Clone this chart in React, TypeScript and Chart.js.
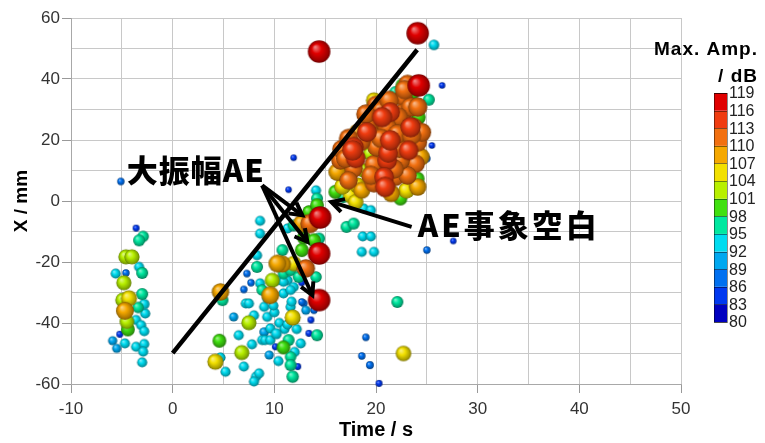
import React, { useEffect, useRef } from 'react';
import { Chart, registerables } from 'chart.js';
Chart.register(...registerables);

// ---------- data: [time s, X mm, max amplitude dB] ----------
const leftGroup: number[][] = [
  [-5.1, 6.4, 86], [-3.6, -8.9, 85], [-3.3, -12.9, 96], [-2.9, -11.6, 95],
  [-4.6, -18.3, 103], [-4.0, -18.3, 103], [-3.3, -21.6, 92], [-3.0, -23.6, 96],
  [-5.6, -23.8, 92], [-4.6, -23.6, 86], [-4.8, -26.8, 103], [-4.9, -32.5, 103],
  [-4.3, -31.9, 105], [-4.7, -36.0, 109], [-3.0, -30.5, 96], [-3.4, -34.9, 95],
  [-2.8, -33.8, 93], [-2.7, -36.9, 92], [-4.5, -39.6, 102], [-4.4, -42.1, 100],
  [-3.6, -39.0, 92], [-3.1, -40.7, 92], [-2.8, -42.7, 92], [-5.2, -43.7, 85],
  [-5.9, -45.8, 90], [-5.5, -48.3, 90], [-4.7, -46.7, 92], [-3.6, -47.8, 92],
  [-2.8, -46.9, 92], [-2.9, -49.4, 92], [-3.0, -52.9, 92],
];

const lowerGroup: number[][] = [
  [4.7, -29.8, 108], [4.9, -32.5, 96], [4.6, -45.8, 100], [4.2, -52.7, 105],
  [4.7, -51.3, 92], [5.2, -56.0, 92], [6.0, -38.0, 90], [7.5, -39.9, 103],
  [7.2, -33.6, 92], [7.0, -29.0, 86], [7.3, -23.8, 86], [7.7, -26.8, 86],
  [8.3, -21.6, 96], [8.3, -17.8, 92], [6.8, -49.7, 103], [7.0, -54.3, 92],
  [8.2, -57.6, 92], [8.5, -56.5, 92], [8.0, -59.2, 92], [8.8, -45.6, 92],
  [9.1, -45.6, 92], [9.6, -45.6, 92], [9.6, -41.8, 92], [9.3, -38.0, 92],
  [9.0, -34.7, 92], [9.3, -32.0, 92], [9.6, -30.9, 109], [9.8, -26.0, 103],
  [10.3, -20.5, 109], [10.8, -20.7, 107], [8.6, -27.0, 92], [8.8, -29.2, 95],
  [10.1, -47.8, 85], [10.9, -48.0, 100], [11.4, -45.6, 96], [11.6, -51.1, 95],
  [11.6, -53.8, 96], [11.8, -57.6, 97], [12.6, -46.7, 92], [11.8, -38.2, 105],
  [11.6, -34.7, 92], [10.9, -30.3, 92], [11.3, -26.0, 92], [10.9, -23.8, 95],
  [10.8, -16.1, 96], [11.9, -28.2, 92], [12.9, -33.6, 86], [13.6, -39.0, 85],
  [13.1, -35.8, 90], [13.4, -43.4, 85], [14.2, -44.0, 96], [14.4, -32.5, 119],
  [14.4, -17.2, 119], [13.1, -22.1, 110], [12.7, -26.8, 85], [11.9, 14.2, 84],
  [11.4, 3.7, 84], [14.1, 3.5, 92], [14.2, 0.8, 96], [14.2, -1.4, 100],
  [13.4, -3.6, 99], [14.5, -5.4, 119], [12.7, -7.4, 109], [13.5, -7.4, 112],
  [11.9, -8.0, 96], [11.3, -9.0, 92], [8.6, -6.5, 92], [8.6, -10.7, 92],
  [12.9, -12.0, 100], [13.9, -12.9, 100], [12.7, -16.1, 100], [14.4, -12.3, 96],
  [11.9, -20.5, 104], [14.1, -24.9, 95], [12.7, -33.1, 86], [11.7, -33.0, 92],
  [13.9, -35.8, 86], [11.6, -22.7, 96], [11.6, -29.2, 92], [12.4, -24.9, 96],
  [10.0, -36.5, 92], [10.5, -40.0, 92], [10.2, -43.5, 94], [12.2, -42.0, 92],
  [11.0, -42.0, 92], [12.0, -49.5, 92], [9.5, -50.5, 90], [10.4, -52.5, 92],
  [6.5, -44.0, 92], [7.8, -47.0, 92], [10.3, -26.0, 92], [10.9, -26.5, 92],
  [9.9, -34.3, 92], [11.3, -40.5, 92], [9.0, -43.0, 91], [8.0, -37.5, 92],
  [12.3, -54.3, 85], [7.5, -33.6, 92],
];

const upperGroup: number[][] = [
  [23.1, 38.4, 110], [22.6, 37.9, 100], [21.9, 35.7, 96], [19.8, 33.0, 105],
  [21.3, 33.0, 112], [22.7, 34.0, 110], [23.4, 30.8, 112], [24.1, 30.8, 112],
  [24.1, 27.0, 100], [21.4, 29.1, 113], [22.2, 27.5, 112], [20.3, 26.4, 110],
  [23.4, 24.2, 114], [21.1, 24.2, 112], [19.5, 22.0, 110], [22.1, 22.0, 112],
  [20.6, 27.5, 114], [24.2, 27.5, 100], [23.7, 24.2, 111], [19.1, 22.6, 113],
  [22.4, 23.7, 104], [21.4, 19.9, 115], [17.7, 16.6, 115], [17.0, 13.9, 111],
  [19.4, 15.5, 101], [20.1, 17.7, 112], [21.1, 13.3, 113], [22.4, 13.3, 111],
  [23.9, 12.2, 110], [23.2, 16.6, 113], [24.1, 19.3, 111], [17.8, 10.6, 110],
  [18.8, 10.0, 102], [19.5, 8.4, 112], [20.8, 7.9, 113], [21.9, 7.9, 110],
  [23.1, 8.4, 110], [17.3, 6.8, 110], [18.2, 5.1, 105], [20.9, 4.6, 114],
  [24.1, 7.3, 100], [24.1, 4.6, 108], [16.5, 13.3, 110], [18.5, 19.5, 112],
  [19.2, 25.0, 111], [20.5, 20.5, 112], [22.8, 19.8, 110], [18.0, 14.0, 113],
  [19.8, 12.0, 111], [21.8, 10.5, 112], [23.5, 21.5, 112], [20.3, 10.0, 104],
  [22.3, 17.2, 111], [24.4, 14.5, 109], [18.6, 3.5, 107], [19.8, 5.8, 110],
  [17.0, 9.0, 108], [16.7, 4.8, 106], [21.2, 15.8, 113], [17.8, 17.7, 114],
  [20.5, 29.7, 111], [17.3, 20.5, 112], [16.6, 17.0, 110], [18.2, 22.5, 108],
  [20.0, 31.5, 110], [22.8, 36.5, 112], [23.6, 35.5, 100], [24.5, 22.5, 111],
  [19.0, 28.5, 112], [16.2, 9.5, 109], [17.5, 1.8, 104], [21.5, 2.5, 108],
  [23.0, 3.5, 106], [22.6, 28.8, 111],
];

const outliers: number[][] = [
  [14.4, 49.0, 119], [24.1, 55.0, 119], [25.7, 51.2, 93], [24.2, 37.9, 119],
  [26.5, 37.9, 84], [25.2, 33.2, 96], [25.5, 18.2, 84], [25.0, 13.9, 86],
  [22.4, 0.8, 100], [16.0, 3.0, 100], [16.8, 1.3, 96], [18.0, -0.3, 104],
  [18.8, -2.5, 92], [19.5, -3.0, 92], [17.1, -8.5, 96], [17.8, -7.4, 96],
  [18.7, -11.6, 92], [19.5, -11.6, 92], [18.6, -16.7, 92], [19.8, -16.7, 92],
  [25.0, -16.1, 86], [27.6, -13.1, 84], [22.1, -33.1, 96], [22.7, -50.0, 104],
  [19.0, -44.7, 86], [18.6, -50.8, 86], [19.4, -53.8, 87], [20.3, -59.8, 85],
];

// colour bar
const ampBins = [80, 83, 86, 89, 92, 95, 98, 101, 104, 107, 110, 113, 116, 119];
const binColors = [
  '#0000c0', '#0038f0', '#0070f0', '#00a8f0', '#00dcf0', '#00e8a0', '#40e010',
  '#b8f000', '#f2e000', '#f5a800', '#f27010', '#f03c10', '#e00000',
];

// axis labels
const xLabelValues = [-10, 0, 10, 20, 30, 40, 50];
const yLabelValues = [-60, -40, -20, 0, 20, 40, 60];

// annotations (data coordinates)
const trendLine = [[0, -49.9], [24.05, 49.6]];
const bigArrowTail = [8.8, 5.1];
const bigArrowHeads = [[12.75, -4.7], [13.25, -13.4], [13.74, -30.9]];
const gapArrow = [[23.5, -8.5], [15.6, -0.3]];
const noteBig = { text: '大振幅AE', x: -4.52, y: 10.0 };
const noteGap = { text: 'AE事象空白', x: 24.1, y: -7.95 };

// ---------- helpers ----------
function binColor(amp: number) {
  let i = Math.floor((amp - 80) / 3);
  if (i < 0) i = 0;
  if (i > binColors.length - 1) i = binColors.length - 1;
  return binColors[i];
}
function radiusFor(amp: number) {
  return 3 + (amp - 83) * 0.23;
}
function hexToRgb(h: string) {
  const n = parseInt(h.slice(1), 16);
  return [(n >> 16) & 255, (n >> 8) & 255, n & 255];
}
function mix(h: string, t: number[], f: number) {
  const c = hexToRgb(h);
  return `rgb(${c.map((v, i) => Math.round(v + (t[i] - v) * f)).join(',')})`;
}
const sphereCache = new Map<string, HTMLCanvasElement>();
function sphere(color: string, r: number) {
  const key = color + ':' + r.toFixed(2);
  const hit = sphereCache.get(key);
  if (hit) return hit;
  const size = Math.ceil(r * 2) + 2;
  const c = document.createElement('canvas');
  c.width = size;
  c.height = size;
  const g = c.getContext('2d')!;
  const cx = size / 2;
  const cy = size / 2;
  const grad = g.createRadialGradient(cx - r * 0.35, cy - r * 0.4, r * 0.05, cx, cy, r);
  grad.addColorStop(0, mix(color, [255, 255, 255], 0.5));
  grad.addColorStop(0.4, color);
  grad.addColorStop(0.85, mix(color, [0, 0, 0], 0.3));
  grad.addColorStop(1, mix(color, [0, 0, 0], 0.5));
  g.fillStyle = grad;
  g.beginPath();
  g.arc(cx, cy, r, 0, Math.PI * 2);
  g.fill();
  sphereCache.set(key, c);
  return c;
}

function drawArrow(ctx: CanvasRenderingContext2D, a: number[], b: number[]) {
  ctx.beginPath();
  ctx.moveTo(a[0], a[1]);
  ctx.lineTo(b[0], b[1]);
  ctx.stroke();
  const ang = Math.atan2(b[1] - a[1], b[0] - a[0]);
  const L = 14;
  const w = 0.5;
  ctx.beginPath();
  ctx.moveTo(b[0] - L * Math.cos(ang - w), b[1] - L * Math.sin(ang - w));
  ctx.lineTo(b[0], b[1]);
  ctx.lineTo(b[0] - L * Math.cos(ang + w), b[1] - L * Math.sin(ang + w));
  ctx.stroke();
}

const overlayPlugin = {
  id: 'overlay',
  afterDatasetsDraw(chart: any) {
    const ctx: CanvasRenderingContext2D = chart.ctx;
    const xs = chart.scales.x;
    const ys = chart.scales.y;
    const P = (p: number[]) => [xs.getPixelForValue(p[0]), ys.getPixelForValue(p[1])];
    ctx.save();
    ctx.strokeStyle = '#000';
    ctx.lineWidth = 4.5;
    ctx.lineJoin = 'miter';
    const a = P(trendLine[0]);
    const b = P(trendLine[1]);
    ctx.beginPath();
    ctx.moveTo(a[0], a[1]);
    ctx.lineTo(b[0], b[1]);
    ctx.stroke();
    ctx.lineWidth = 4;
    for (const h of bigArrowHeads) drawArrow(ctx, P(bigArrowTail), P(h));
    drawArrow(ctx, P(gapArrow[0]), P(gapArrow[1]));

    ctx.fillStyle = '#000';
    ctx.textBaseline = 'middle';
    ctx.textAlign = 'left';
    ctx.font = '900 31px "Noto Sans CJK JP"';
    (ctx as any).letterSpacing = '1px';
    const t1 = P([noteBig.x, noteBig.y]);
    ctx.fillText(noteBig.text, t1[0], t1[1]);
    (ctx as any).letterSpacing = '3px';
    const t2 = P([noteGap.x, noteGap.y]);
    ctx.fillText(noteGap.text, t2[0], t2[1]);
    (ctx as any).letterSpacing = '0px';
    ctx.restore();
  },
  afterDraw(chart: any) {
    const ctx: CanvasRenderingContext2D = chart.ctx;
    const area = chart.chartArea;
    ctx.save();
    ctx.fillStyle = '#000';
    // axis titles
    ctx.font = 'bold 20px "Liberation Sans", Arial, sans-serif';
    ctx.textAlign = 'center';
    ctx.textBaseline = 'middle';
    ctx.fillText('Time / s', (area.left + area.right) / 2, 430);
    ctx.save();
    ctx.translate(22, (area.top + area.bottom) / 2);
    ctx.rotate(-Math.PI / 2);
    ctx.font = 'bold 19px "Liberation Sans", Arial, sans-serif';
    ctx.fillText('X / mm', 0, 0);
    ctx.restore();

    // colour bar
    const barL = area.right + 33;
    const barW = 13;
    const barTop = 93;
    const barBot = 322;
    const seg = (barBot - barTop) / binColors.length;
    for (let i = 0; i < binColors.length; i++) {
      const y1 = barBot - (i + 1) * seg;
      ctx.fillStyle = binColors[i];
      ctx.fillRect(barL, y1, barW, seg);
    }
    ctx.strokeStyle = 'rgba(0,0,0,0.45)';
    ctx.lineWidth = 1;
    for (let i = 0; i <= binColors.length; i++) {
      const y = Math.round(barBot - i * seg) + 0.5;
      ctx.beginPath();
      ctx.moveTo(barL, y);
      ctx.lineTo(barL + barW, y);
      ctx.stroke();
    }
    ctx.strokeRect(barL + 0.5, barTop + 0.5, barW, barBot - barTop);
    ctx.fillStyle = '#222';
    ctx.font = '16px "Liberation Sans", Arial, sans-serif';
    ctx.textAlign = 'left';
    ctx.textBaseline = 'middle';
    ampBins.forEach((v, i) => {
      ctx.fillText(String(v), barL + barW + 2, barBot - i * seg + 1);
    });
    ctx.fillStyle = '#000';
    ctx.font = 'bold 19px "Liberation Sans", Arial, sans-serif';
    ctx.textAlign = 'right';
    (ctx as any).letterSpacing = '1px';
    ctx.fillText('Max. Amp.', 758, 50);
    ctx.fillText('/ dB', 758, 77);
    (ctx as any).letterSpacing = '0px';
    ctx.restore();
  },
};

export default function App() {
  const ref = useRef<HTMLCanvasElement>(null);
  useEffect(() => {
    document.body.style.margin = '0';
    const pts = [...leftGroup, ...lowerGroup, ...upperGroup, ...outliers]
      .map(([x, y, amp]) => ({ x, y, amp, r: radiusFor(amp) }))
      .sort((p, q) => p.amp - q.amp);
    const chart = new Chart(ref.current!, {
      type: 'bubble',
      data: {
        datasets: [
          {
            data: pts as any,
            clip: false as any,
            pointStyle: ((c: any) =>
              c.raw ? sphere(binColor(c.raw.amp), c.raw.r) : 'circle') as any,
            backgroundColor: ((c: any) => (c.raw ? binColor(c.raw.amp) : '#888')) as any,
            borderWidth: 0,
          },
        ],
      },
      options: {
        responsive: false,
        devicePixelRatio: 1,
        animation: false,
        events: [],
        layout: { padding: { top: 18, right: 84, left: 0, bottom: 0 } },
        plugins: { legend: { display: false }, tooltip: { enabled: false } },
        scales: {
          x: {
            type: 'linear',
            min: -10,
            max: 50,
            afterFit: (s: any) => {
              s.height = 59;
            },
            ticks: {
              stepSize: 5,
              padding: 6,
              color: '#333',
              font: { family: '"Liberation Sans", Arial, sans-serif', size: 17 },
              maxRotation: 0,
              autoSkip: false,
              callback: (v: any) => (xLabelValues.includes(Number(v)) ? String(v) : ''),
            },
            grid: {
              color: '#c8c8c8',
              tickLength: 9,
              tickColor: ((c: any) =>
                c.tick && xLabelValues.includes(c.tick.value) ? '#999' : 'rgba(0,0,0,0)') as any,
            },
            border: { color: '#a8a8a8' },
          },
          y: {
            type: 'linear',
            min: -60,
            max: 60,
            afterFit: (s: any) => {
              s.width = 71;
            },
            ticks: {
              stepSize: 10,
              padding: 2,
              color: '#333',
              font: { family: '"Liberation Sans", Arial, sans-serif', size: 17 },
              autoSkip: false,
              callback: (v: any) => (yLabelValues.includes(Number(v)) ? String(v) : ''),
            },
            grid: {
              color: '#c8c8c8',
              tickLength: 9,
              tickColor: ((c: any) =>
                c.tick && yLabelValues.includes(c.tick.value) ? '#999' : 'rgba(0,0,0,0)') as any,
            },
            border: { color: '#a8a8a8' },
          },
        },
      },
      plugins: [overlayPlugin],
    });
    return () => chart.destroy();
  }, []);
  return <canvas ref={ref} width={765} height={443} style={{ display: 'block' }} />;
}
